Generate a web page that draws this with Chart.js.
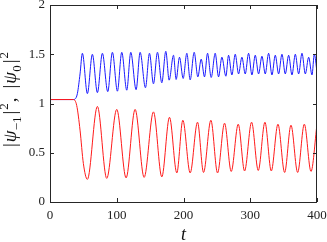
<!DOCTYPE html>
<html lang="en">
<head>
<meta charset="UTF-8">
<title>Populations</title>
<script src="https://cdn.jsdelivr.net/npm/chart.js@4"></script>
<style>
    body { margin: 0; background: #fff; }
    .chart-container { position: relative; width: 327px; height: 242px; }
</style>
</head>
<body>
<div class="chart-container"><canvas id="psiChart" width="327" height="242"></canvas></div>
<script>
// turning points: time t and value at that time
const redT = [0, 35, 40, 45, 50, 56, 71, 85, 100, 114, 127.5, 141, 155, 167.5, 179, 190, 199, 210, 221, 230,
    241, 251, 261.5, 271.5, 282, 291.5, 302, 312, 322, 331.5, 341.5, 351.5, 361, 371, 381, 391, 400];
const redV = [1.04, 1.04, 0.98, 0.73, 0.39, 0.23, 0.97, 0.24, 0.94, 0.245, 0.94, 0.25, 0.915, 0.255, 0.86, 0.295, 0.83, 0.295, 0.81, 0.30,
    0.83, 0.295, 0.80, 0.31, 0.79, 0.315, 0.81, 0.32, 0.81, 0.315, 0.79, 0.30, 0.78, 0.30, 0.79, 0.31, 0.79];

const blueT = [0, 35, 37.5, 41, 45, 48.5, 56, 63.5, 71, 78.5, 86.5, 93.5, 101, 107.5, 115, 121, 129, 135, 143, 149,
    155, 161, 167.5, 173.5, 178.5, 185, 189, 194, 199.5, 205, 210, 216, 221.5, 226.5, 231.5, 236, 241.5, 247.5, 252.5, 257.5,
    263.5, 267.5, 272.5, 277.5, 282.5, 287.5, 292.5, 297.5, 302.5, 307.5, 312.5, 317.5, 322.5, 327.5, 332.5, 337.5, 342.5, 347.5,
    352.5, 357.5, 362.5, 367.5, 372.5, 377.5, 382.5, 387.5, 392.5, 396, 400];
const blueV = [1.04, 1.04, 1.045, 1.10, 1.30, 1.51, 1.10, 1.50, 1.11, 1.51, 1.12, 1.52, 1.125, 1.52, 1.135, 1.52, 1.14, 1.52, 1.16, 1.51,
    1.20, 1.52, 1.21, 1.53, 1.237, 1.49, 1.244, 1.47, 1.254, 1.51, 1.24, 1.52, 1.27, 1.45, 1.27, 1.51, 1.264, 1.51, 1.27, 1.47,
    1.277, 1.49, 1.29, 1.50, 1.30, 1.47, 1.30, 1.51, 1.29, 1.49, 1.30, 1.48, 1.30, 1.51, 1.29, 1.49, 1.30, 1.50,
    1.30, 1.49, 1.29, 1.50, 1.30, 1.51, 1.30, 1.47, 1.29, 1.50, 1.32];

const xTicks = [0, 100, 200, 300, 400];
const yTicks = [0, 0.5, 1, 1.5, 2];

const serif = '"Liberation Serif", "DejaVu Serif", serif';
const axisColor = '#262626';

function toPoints(ts, vs) {
    return ts.map((t, i) => ({ x: t, y: vs[i] }));
}

// box round the plot with inward ticks, plus the two axis titles
const framePlugin = {
    id: 'frame',
    afterDraw(chart) {
        const { ctx, chartArea: a, scales: { x, y } } = chart;
        const tick = 4;
        ctx.save();
        ctx.strokeStyle = axisColor;
        ctx.lineWidth = 1;
        ctx.beginPath();
        ctx.rect(a.left + 0.5, a.top + 0.5, a.right - a.left - 1, a.bottom - a.top);
        xTicks.forEach(v => {
            const px = Math.round(x.getPixelForValue(v)) + 0.5;
            ctx.moveTo(px, a.bottom);
            ctx.lineTo(px, a.bottom - tick);
            ctx.moveTo(px, a.top);
            ctx.lineTo(px, a.top + tick);
        });
        yTicks.forEach(v => {
            const py = Math.round(y.getPixelForValue(v)) + 0.5;
            ctx.moveTo(a.left, py);
            ctx.lineTo(a.left + tick, py);
            ctx.moveTo(a.right, py);
            ctx.lineTo(a.right - tick, py);
        });
        ctx.stroke();

        ctx.fillStyle = '#111';
        ctx.font = 'italic 18px ' + serif;
        ctx.textAlign = 'center';
        ctx.textBaseline = 'alphabetic';
        ctx.fillText('t', (a.left + a.right) / 2, 240);

        // |psi_-1|^2, |psi_0|^2 written piece by piece
        const main = '19px ' + serif;
        const ital = 'italic 19px ' + serif;
        const small = '13px ' + serif;
        const pieces = [
            { s: '|', f: main, dy: 0, gap: 1 },
            { s: 'ψ', f: ital, dy: 0, gap: 0 },
            { s: '−1', f: small, dy: 5, gap: 2 },
            { s: '|', f: main, dy: 0, gap: 1 },
            { s: '2', f: small, dy: -8, gap: 1 },
            { s: ',', f: main, dy: 0, gap: 9 },
            { s: '|', f: main, dy: 0, gap: 1 },
            { s: 'ψ', f: ital, dy: 0, gap: 0 },
            { s: '0', f: small, dy: 5, gap: 2 },
            { s: '|', f: main, dy: 0, gap: 1 },
            { s: '2', f: small, dy: -8, gap: 0 }
        ];
        let total = 0;
        pieces.forEach(p => {
            ctx.font = p.f;
            p.w = ctx.measureText(p.s).width;
            total += p.w + p.gap;
        });
        ctx.translate(16, (a.top + a.bottom) / 2 - 4);
        ctx.rotate(-Math.PI / 2);
        ctx.textAlign = 'left';
        let cx = -total / 2;
        pieces.forEach(p => {
            ctx.font = p.f;
            ctx.fillText(p.s, cx, p.dy);
            cx += p.w + p.gap;
        });
        ctx.restore();
    }
};

const ctx = document.getElementById('psiChart').getContext('2d');
const chart = new Chart(ctx, {
    type: 'line',
    data: {
        datasets: [
            {
                label: 'psi_-1',
                data: toPoints(redT, redV),
                borderColor: '#ff1a1a',
                borderWidth: 1,
                pointRadius: 0,
                cubicInterpolationMode: 'monotone'
            },
            {
                label: 'psi_0',
                data: toPoints(blueT, blueV),
                borderColor: '#1a1aff',
                borderWidth: 1,
                pointRadius: 0,
                cubicInterpolationMode: 'monotone'
            }
        ]
    },
    options: {
        responsive: false,
        animation: false,
        layout: { padding: { top: 5, right: 10, left: 0, bottom: 0 } },
        plugins: { legend: { display: false }, tooltip: { enabled: false } },
        scales: {
            x: {
                type: 'linear',
                min: 0,
                max: 400,
                grid: { display: false, drawTicks: false, tickLength: 0 },
                border: { display: false },
                afterBuildTicks: s => { s.ticks = xTicks.map(v => ({ value: v })); },
                afterFit: s => { s.height = 40; s.paddingLeft = 0; s.paddingRight = 0; },
                ticks: {
                    padding: 6,
                    maxRotation: 0,
                    color: '#222',
                    font: { family: serif, size: 13 }
                }
            },
            y: {
                min: 0,
                max: 2,
                grid: { display: false, drawTicks: false, tickLength: 0 },
                border: { display: false },
                afterBuildTicks: s => { s.ticks = yTicks.map(v => ({ value: v })); },
                afterFit: s => { s.width = 50; s.paddingTop = 0; s.paddingBottom = 0; },
                ticks: {
                    padding: 5,
                    color: '#222',
                    font: { family: serif, size: 13 },
                    callback: v => String(v)
                }
            }
        }
    },
    plugins: [framePlugin]
});
</script>
</body>
</html>
